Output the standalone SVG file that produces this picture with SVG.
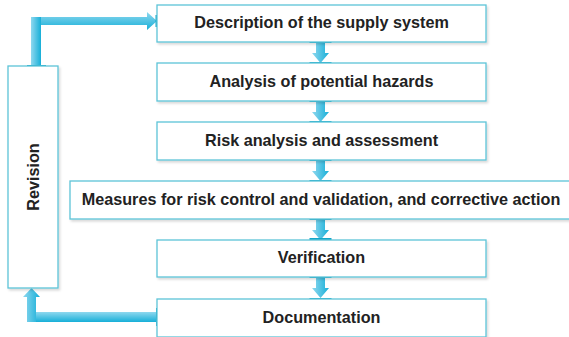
<svg xmlns="http://www.w3.org/2000/svg" width="569" height="337" viewBox="0 0 569 337">
  <style>
    .box { fill: #ffffff; stroke: #5cc4d8; stroke-width: 1.3; filter: url(#shadow); }
    .label { font-family: "Liberation Sans", Arial, sans-serif; font-size: 16.2px; font-weight: bold; fill: #222222; text-anchor: middle; }
    .arrow { fill: url(#vgrad); }
    .harrow { fill: url(#hgrad); }
    .cap { stroke: #12a6c9; stroke-width: 2; }
  </style>
  <defs>
    <filter id="shadow" x="-5%" y="-20%" width="115%" height="150%">
      <feDropShadow dx="1.5" dy="2" stdDeviation="1.2" flood-color="#000" flood-opacity="0.15"/>
    </filter>
    <linearGradient id="vgrad" x1="0" y1="0" x2="1" y2="0">
      <stop offset="0" stop-color="#8fd8ef"/>
      <stop offset="1" stop-color="#17afd8"/>
    </linearGradient>
    <linearGradient id="hgrad" x1="0" y1="0" x2="0" y2="1">
      <stop offset="0" stop-color="#8fd8ef"/>
      <stop offset="1" stop-color="#17afd8"/>
    </linearGradient>
    <path id="down" d="M-4.5,0 H4.5 V11 H8.5 L0,21 L-8.5,11 H-4.5 Z"/>
  </defs>

  <!-- connectors -->
  <g id="connectors">
    <!-- revision loop: top branch into the first step -->
    <rect class="arrow" x="31" y="17" width="10" height="49"/>
    <path class="harrow" d="M41,17 H147 V12 L157,21 L147,30 V25 H41 Z"/>
    <line class="cap" x1="27" y1="66" x2="46" y2="66"/>
    <line class="cap" x1="156.5" y1="15" x2="156.5" y2="27"/>
    <!-- revision loop: bottom branch from documentation -->
    <path class="harrow" d="M157,312 H27 V322 H157 Z"/>
    <path class="arrow" d="M27,322 V297 H23 L31.5,288 L40,297 H36 V322 Z"/>
    <line class="cap" x1="157" y1="308" x2="157" y2="326"/>
    <!-- step-to-step arrows -->
    <g transform="translate(320.5,42)"><use href="#down" class="arrow"/><line class="cap" x1="-11" y1="0" x2="11" y2="0"/><line class="cap" x1="-11" y1="21" x2="11" y2="21"/></g>
    <g transform="translate(320.5,101)"><use href="#down" class="arrow"/><line class="cap" x1="-11" y1="0" x2="11" y2="0"/><line class="cap" x1="-11" y1="21" x2="11" y2="21"/></g>
    <g transform="translate(320.5,160)"><use href="#down" class="arrow"/><line class="cap" x1="-11" y1="0" x2="11" y2="0"/><line class="cap" x1="-11" y1="21" x2="11" y2="21"/></g>
    <g transform="translate(320.5,219)"><use href="#down" class="arrow"/><line class="cap" x1="-11" y1="0" x2="11" y2="0"/><line class="cap" x1="-11" y1="20" x2="11" y2="20"/></g>
    <g transform="translate(320.5,277)"><use href="#down" class="arrow"/><line class="cap" x1="-11" y1="0" x2="11" y2="0"/><line class="cap" x1="-11" y1="22" x2="11" y2="22"/></g>
  </g>

  <!-- nodes -->
  <g id="revision">
    <rect class="box" x="8" y="66" width="50" height="222"/>
    <text class="label" transform="translate(38.5,177) rotate(-90)">Revision</text>
  </g>
  <g id="description">
    <rect class="box" x="157" y="5" width="329" height="37"/>
    <text class="label" x="321.5" y="28">Description of the supply system</text>
  </g>
  <g id="hazards">
    <rect class="box" x="157" y="63" width="329" height="38"/>
    <text class="label" x="321.5" y="87">Analysis of potential hazards</text>
  </g>
  <g id="risk">
    <rect class="box" x="157" y="122" width="329" height="38"/>
    <text class="label" x="321.5" y="146">Risk analysis and assessment</text>
  </g>
  <g id="measures">
    <rect class="box" x="70" y="181" width="505" height="38"/>
    <text class="label" x="321" y="204.5">Measures for risk control and validation, and corrective action</text>
  </g>
  <g id="verification">
    <rect class="box" x="157" y="240" width="329" height="37"/>
    <text class="label" x="321.5" y="263">Verification</text>
  </g>
  <g id="documentation">
    <rect class="box" x="157" y="299" width="329" height="38"/>
    <text class="label" x="321.5" y="323">Documentation</text>
  </g>
</svg>
